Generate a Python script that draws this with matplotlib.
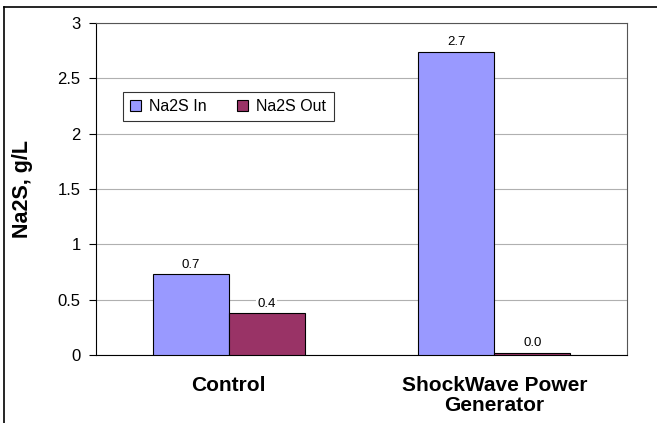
import matplotlib
matplotlib.use("Agg")
import matplotlib.pyplot as plt
from matplotlib.lines import Line2D
import numpy as np

plt.rcParams['font.family'] = ['Liberation Sans', 'DejaVu Sans']

categorias = ["Control", "ShockWave Power\nGenerator"]
na2s_in = [0.73, 2.74]
na2s_out = [0.38, 0.02]
etiquetas_in = ["0.7", "2.7"]
etiquetas_out = ["0.4", "0.0"]
series = ["Na2S In", "Na2S Out"]

fig = plt.figure(figsize=(6.57, 4.23), dpi=100)
ax = fig.add_axes([96/657, 1 - 355/423, 531/657, 332/423])

x = np.arange(len(categorias))
ancho = 0.286

b1 = ax.bar(x - ancho/2, na2s_in, ancho, color="#9999FF", edgecolor="black", linewidth=0.8,
            label=series[0], zorder=3)
b2 = ax.bar(x + ancho/2, na2s_out, ancho, color="#993366", edgecolor="black", linewidth=0.8,
            label=series[1], zorder=3)

for barras, etiquetas in [(b1, etiquetas_in), (b2, etiquetas_out)]:
    for rect, txt in zip(barras, etiquetas):
        ax.text(rect.get_x() + rect.get_width()/2, rect.get_height() + 0.03, txt,
                ha="center", va="bottom", fontsize=9.5, zorder=4,
                bbox=dict(facecolor="white", edgecolor="none", pad=1))

ax.set_xlim(-0.5, 1.5)
ax.set_ylim(0, 3)
ax.set_yticks(np.arange(0, 3.01, 0.5))
ax.set_yticklabels(["0", "0.5", "1", "1.5", "2", "2.5", "3"], fontsize=12)
ax.yaxis.grid(True, color="#b0b0b0", linewidth=0.8, zorder=0)
ax.set_axisbelow(True)

ax.set_xticks(x)
ax.set_xticklabels(categorias, fontsize=15, fontweight="bold", linespacing=1.1)
ax.tick_params(axis="x", length=0, pad=15)
ax.tick_params(axis="y", length=5, width=0.8, direction="out", pad=6)

for s in ["top", "right"]:
    ax.spines[s].set_color("#555555")
    ax.spines[s].set_linewidth(0.8)
for s in ["left", "bottom"]:
    ax.spines[s].set_color("black")
    ax.spines[s].set_linewidth(0.8)

ax.set_ylabel("Na2S, g/L", fontsize=15.5, fontweight="bold", labelpad=18)

leg = ax.legend(loc="upper left", bbox_to_anchor=((123 - 96)/531, (355 - 92)/332), ncol=2,
                frameon=True, fancybox=False, edgecolor="black", fontsize=11.5,
                handlelength=0.65, handleheight=0.65, handletextpad=0.55, columnspacing=1.9,
                borderpad=0.45, borderaxespad=0)
leg.get_frame().set_linewidth(0.8)

# marco exterior
fig.add_artist(Line2D([4/657, 4/657], [0, 1 - 7/423], color="black", linewidth=1.2,
                      transform=fig.transFigure))
fig.add_artist(Line2D([4/657, 1], [1 - 7/423, 1 - 7/423], color="black", linewidth=1.2,
                      transform=fig.transFigure))

fig.savefig("out.png", dpi=100)
